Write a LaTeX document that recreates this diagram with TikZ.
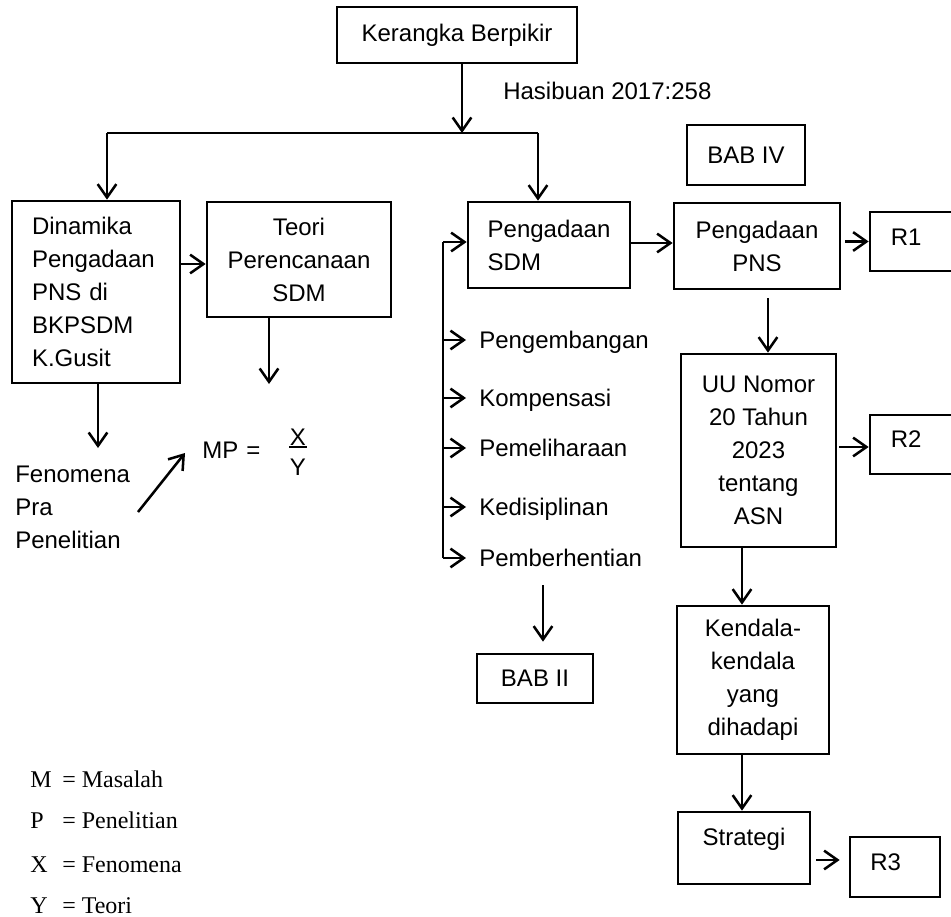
\documentclass[tikz,border=0pt]{standalone}
\usepackage{fontspec}
\setmainfont{Liberation Sans}
\newfontfamily\legserif{Liberation Serif}
\usetikzlibrary{arrows.meta,calc}
\newcommand\mainfs{\fontsize{18}{24.75}\selectfont}
\newcommand\legfs{\legserif\fontsize{18}{24.75}\selectfont}
\begin{document}
\begin{tikzpicture}[x=0.75pt,y=-0.75pt,
  box/.style={draw, line width=2pt, inner sep=0pt, align=center, font=\mainfs},
  arr/.style={line width=1.9pt, -{Straight Barb[length=10pt,width=14pt,line width=1.9pt]}},
  ln/.style={line width=1.9pt},
  txt/.style={inner sep=0pt, font=\mainfs},
  leg/.style={inner sep=0pt, font=\legfs, anchor=base west},
  item/.style={anchor=west, inner xsep=9.75pt, inner ysep=0pt, text height=12.9pt, text depth=0pt, font=\mainfs}]
\useasboundingbox (0,0) rectangle (951,917);

% boxes
\node[box, minimum width=180pt, minimum height=42pt] (kb) at (457,35) {Kerangka Berpikir};
\node[box, minimum width=126pt, minimum height=136.5pt, text width=96pt, align=left] (din) at (96,292) {Dinamika\\Pengadaan\\PNS di\\BKPSDM\\K.Gusit};
\node[box, minimum width=138pt, minimum height=86.25pt] (teori) at (299,259.5) {Teori\\Perencanaan\\SDM};
\node[box, minimum width=121.5pt, minimum height=64.5pt, text width=92pt, align=left] (sdm) at (549,245) {Pengadaan\\SDM};
\node[box, minimum width=124.5pt, minimum height=64.5pt] (pns) at (757,246) {Pengadaan\\PNS};
\node[box, minimum width=116.25pt, minimum height=144.75pt] (uu) at (758.5,450.5) {UU Nomor\\20 Tahun\\2023\\tentang\\ASN};
\node[box, minimum width=114pt, minimum height=111pt] (ken) at (753,680) {Kendala-\\kendala\\yang\\dihadapi};
\node[box, minimum width=99pt, minimum height=54pt] (str) at (744,848) {};
\node[txt, anchor=base] (strt) at (744,845) {Strategi};
\node[box, minimum width=66pt, minimum height=44.25pt] (r1) at (914,241.5) {};
\node[txt, anchor=base west] (r1t) at (890.5,245) {R1};
\node[box, minimum width=66pt, minimum height=44.25pt] (r2) at (914,444.5) {};
\node[txt, anchor=base west] (r2t) at (890.5,447) {R2};
\node[box, minimum width=67.5pt, minimum height=45pt] (r3) at (895,867) {};
\node[txt, anchor=base west] (r3t) at (870,870) {R3};
\node[box, minimum width=88.5pt, minimum height=45pt] (bab4) at (746,155) {BAB IV};
\node[box, minimum width=87pt, minimum height=36.75pt] (bab2) at (535,678.5) {BAB II};

% top split
\coordinate (k1) at (462,133);
\coordinate (kl) at (107,133);
\coordinate (kr) at (538,133);
\draw[arr] (kb.south -| k1) -- (k1);
\draw[ln] (kl) -- (kr);
\draw[arr] (kl) -- (din.north -| kl);
\draw[arr] (kr) -- (sdm.north -| kr);
\node[txt, anchor=base west] (has) at (503,100) {Hasibuan 2017:258};

% left part
\draw[arr] ($(din.east)+(0,-28)$) -- ($(teori.west)+(0,4.5)$);
\coordinate (td) at (269,384);
\draw[arr] (teori.south -| td) -- (td);
\coordinate (dd) at (98,448);
\draw[arr] (din.south -| dd) -- (dd);
\node[txt, align=left, anchor=north west] (fen) at (15,466) {Fenomena\\Pra\\Penelitian};
\node[txt, anchor=base west] (mp) at (202,458) {MP\,\,=};
\node[txt, anchor=base] (fx) at (298,445) {X};
\node[txt, anchor=base] (fy) at (298,475) {Y};
\draw[line width=1.2pt] ($(fx.south)+(-9,2)$) -- ($(fx.south)+(9,2)$);
\coordinate (fa) at (138,512);
\coordinate (fb) at (185,453);
\draw[arr] (fa) -- (fb);

% middle list
\coordinate (t1) at (443,242);
\coordinate (t2) at (443,558);
\draw[ln] (t1) -- (t2);
\draw[arr] (t1) -- (sdm.west |- t1);
\node[item] (l1) at (466,340) {Pengembangan};
\node[item] (l2) at (466,398) {Kompensasi};
\node[item] (l3) at (466,448) {Pemeliharaan};
\node[item] (l4) at (466,507) {Kedisiplinan};
\node[item] (l5) at (466,558) {Pemberhentian};
\foreach \n in {l1,l2,l3,l4,l5} \draw[arr] (\n.west -| t1) -- (\n.west);
\coordinate (pb) at (543,585);
\draw[arr, shorten >=8.25pt] (pb) -- (bab2.north -| pb);

% right column
\draw[arr] (sdm.east |- 0,243) -- (pns.west |- 0,243);
\draw[arr, shorten <=3pt] (pns.east |- r1.west) -- (r1.west);
\coordinate (pu) at (768,0);
\draw[arr, shorten <=6pt] (pns.south -| pu) -- (uu.north -| pu);
\draw[arr, shorten <=1.5pt] (uu.east |- 0,447) -- (r2.west |- 0,447);
\coordinate (uk) at (742,0);
\draw[arr] (uu.south -| uk) -- (ken.north -| uk);
\draw[arr] (ken.south -| uk) -- (str.north -| uk);
\coordinate (sr) at (0,860);
\draw[arr, shorten <=3.75pt, shorten >=6.75pt] (str.east |- sr) -- (r3.west |- sr);

% legend
\node[leg] (lm) at (30,787) {M};
\node[leg] (lmv) at (62,787) {= Masalah};
\node[leg] (lp) at (30,828) {P};
\node[leg] (lpv) at (62,828) {= Penelitian};
\node[leg] (lx) at (30,872) {X};
\node[leg] (lxv) at (62,872) {= Fenomena};
\node[leg] (ly) at (30,913) {Y};
\node[leg] (lyv) at (62,913) {= Teori};
\end{tikzpicture}
\end{document}
